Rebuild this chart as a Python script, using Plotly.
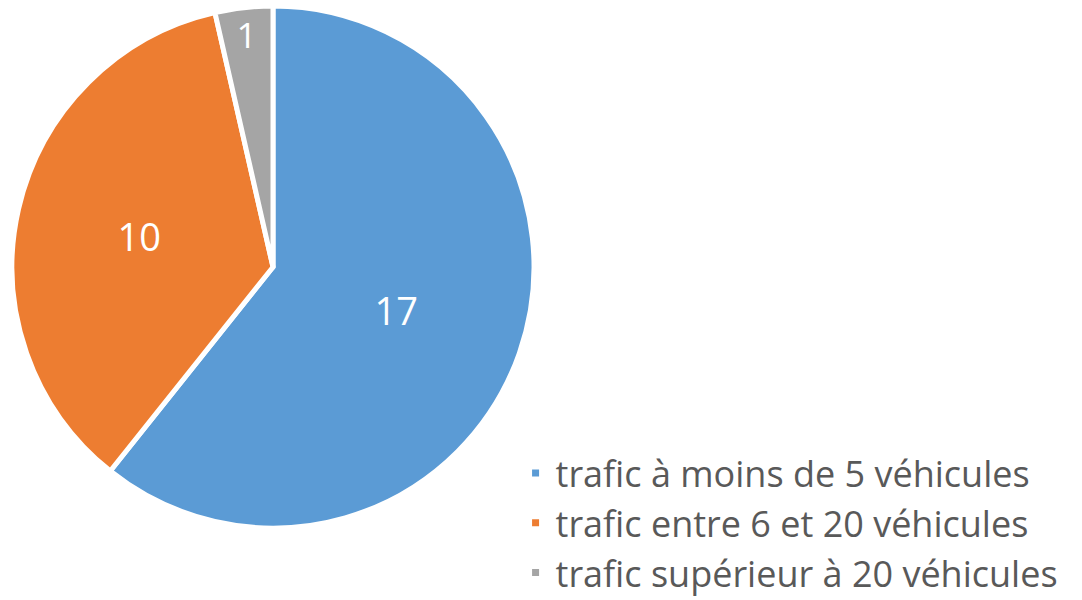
import plotly.graph_objects as go

labels = ["trafic à moins de 5 véhicules", "trafic entre 6 et 20 véhicules", "trafic supérieur à 20 véhicules"]
values = [17, 10, 1]
colors = ["#5B9BD5", "#ED7D31", "#A5A5A5"]

W, H = 1082, 600
cx, cy, r = 273, 267, 261

fig = go.Figure(go.Pie(
    labels=labels, values=values, sort=False, direction="clockwise", rotation=0,
    marker=dict(colors=colors, line=dict(color="white", width=5)),
    textinfo="value", textposition="inside", insidetextorientation="horizontal",
    textfont=dict(color="white", size=38, family="Open Sans, Lato, sans-serif"),
    domain=dict(x=[(cx - r) / W, (cx + r) / W], y=[1 - (cy + r) / H, 1 - (cy - r) / H]),
))

fig.update_layout(
    width=W, height=H, margin=dict(l=0, r=0, t=0, b=0, autoexpand=False),
    paper_bgcolor="white", plot_bgcolor="white",
    font=dict(family="Open Sans, Lato, sans-serif", color="#595959"),
    legend=dict(x=0.4765, y=1 - 443 / H, xanchor="left", yanchor="top",
                font=dict(size=36, color="#595959"), itemwidth=30, tracegroupgap=0),
)

# the page's default body margin shifts the chart, remove it
fig.write_html("out.html", config={"displayModeBar": False},
               post_script="document.body.style.margin='0';")
